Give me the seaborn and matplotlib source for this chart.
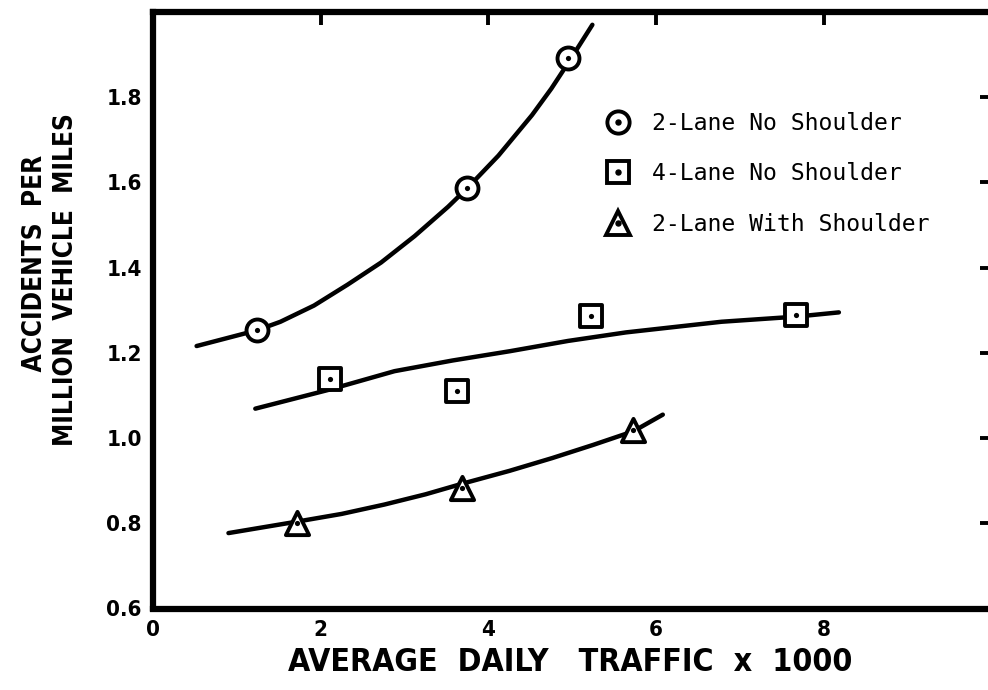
import matplotlib
matplotlib.use("Agg")
import matplotlib.pyplot as plt
import seaborn as sns
from matplotlib import font_manager
from matplotlib.font_manager import FontProperties
from matplotlib.lines import Line2D
from matplotlib.legend_handler import HandlerTuple

# Observed points
two_lane_ns_x = [1.24, 3.75, 4.95]
two_lane_ns_y = [1.253, 1.587, 1.891]
four_lane_ns_x = [2.11, 3.62, 5.22, 7.67]
four_lane_ns_y = [1.138, 1.110, 1.287, 1.289]
two_lane_ws_x = [1.72, 3.69, 5.73]
two_lane_ws_y = [0.800, 0.883, 1.020]

# Hand-drawn trend curves
two_lane_ns_curve_x = [0.52, 1.24, 1.52, 1.92, 2.32, 2.72, 3.12, 3.52, 3.75, 4.12, 4.52, 4.75, 4.95, 5.24]
two_lane_ns_curve_y = [1.216, 1.253, 1.273, 1.311, 1.360, 1.412, 1.474, 1.543, 1.587, 1.663, 1.758, 1.820, 1.880, 1.970]
four_lane_ns_curve_x = [1.22, 2.11, 2.88, 3.57, 4.26, 4.95, 5.64, 6.78, 7.67, 8.18]
four_lane_ns_curve_y = [1.069, 1.114, 1.157, 1.182, 1.204, 1.228, 1.248, 1.273, 1.285, 1.295]
two_lane_ws_curve_x = [0.90, 1.72, 2.25, 2.76, 3.25, 3.69, 4.25, 4.76, 5.25, 5.73, 6.08]
two_lane_ws_curve_y = [0.777, 0.804, 0.822, 0.844, 0.868, 0.893, 0.923, 0.953, 0.984, 1.016, 1.055]

series_labels = ["2-Lane No Shoulder", "4-Lane No Shoulder", "2-Lane With Shoulder"]
x_ticks = [0, 2, 4, 6, 8]
y_ticks = [0.6, 0.8, 1.0, 1.2, 1.4, 1.6, 1.8]

sns.set_theme(style="white")
plt.rcParams.update({"text.color": "black", "axes.labelcolor": "black",
                     "xtick.color": "black", "ytick.color": "black"})
plt.rcParams["font.family"] = ["Liberation Sans", "DejaVu Sans"]


def condensed_bold():
    # look for a narrow/condensed bold sans to mimic the stencil lettering
    found = []
    for f in font_manager.fontManager.ttflist:
        n, fn, st = f.name.lower(), f.fname.lower(), str(f.stretch).lower()
        narrowish = ("condensed" in st or "condensed" in n or "narrow" in n
                     or "condensed" in fn or "narrow" in fn)
        bold = f.weight in (700, "bold")
        if narrowish and bold and f.style == "normal" and "mono" not in n \
                and "italic" not in fn and "semi" not in fn and "extra" not in fn:
            found.append(f)
    found.sort(key=lambda f: 0 if "liberation" in f.name.lower() else 1)
    return found[0].fname if found else None


cond = condensed_bold()
if cond:
    def lab_font(size):
        return FontProperties(fname=cond, size=size)
    tick_size, ylab_size, xlab_size = 16, 18.8, 23
else:
    def lab_font(size):
        return FontProperties(family="Liberation Sans", weight="bold", size=size)
    tick_size, ylab_size, xlab_size = 15.5, 16, 20

fig = plt.figure(figsize=(9.88, 6.90), dpi=100)
ax = fig.add_axes([153 / 988, 81.5 / 690, (991.5 - 153) / 988, (678 - 81.5) / 690])

# curves
for cx, cy in [(two_lane_ns_curve_x, two_lane_ns_curve_y),
               (four_lane_ns_curve_x, four_lane_ns_curve_y),
               (two_lane_ws_curve_x, two_lane_ws_curve_y)]:
    sns.lineplot(x=cx, y=cy, ax=ax, color="black", linewidth=3.2,
                 sort=False, estimator=None, solid_capstyle="round",
                 solid_joinstyle="round", zorder=2)

# markers with centre dot
mk_specs = [(two_lane_ns_x, two_lane_ns_y, "o", 250),
            (four_lane_ns_x, four_lane_ns_y, "s", 260),
            (two_lane_ws_x, two_lane_ws_y, "^", 280)]
for px, py, m, s in mk_specs:
    sns.scatterplot(x=px, y=py, ax=ax, marker=m, s=s, color="white",
                    edgecolor="black", linewidth=2.8, zorder=3)
    sns.scatterplot(x=px, y=py, ax=ax, marker="o", s=14, color="black",
                    linewidth=0, zorder=4)

ax.set_xlim(0, 10)
ax.set_ylim(0.6, 2.0)
ax.set_xticks(x_ticks)
ax.set_xticklabels([str(v) for v in x_ticks])
ax.set_yticks(y_ticks)
ax.set_yticklabels([f"{v:.1f}" for v in y_ticks])
ax.tick_params(direction="in", length=9, width=2.8, top=True, right=True, pad=8)
for lab in ax.get_xticklabels() + ax.get_yticklabels():
    lab.set_fontproperties(lab_font(tick_size))
for sp in ax.spines.values():
    sp.set_linewidth(4.5)
    sp.set_color("black")

# leading spaces nudge the first line up, as in the hand lettering
ax.set_ylabel("    ACCIDENTS  PER\nMILLION  VEHICLE  MILES",
              fontproperties=lab_font(ylab_size), linespacing=1.27, va="center")
ax.yaxis.set_label_coords(-0.122, 0.551)
ax.set_xlabel("AVERAGE  DAILY   TRAFFIC  x  1000",
              fontproperties=lab_font(xlab_size), va="center")
ax.xaxis.set_label_coords(0.497, -0.09)

dot = dict(marker="o", ls="", ms=3.6, color="black")
handles = [
    (Line2D([], [], marker="o", ls="", ms=16, mfc="white", mec="black", mew=2.8), Line2D([], [], **dot)),
    (Line2D([], [], marker="s", ls="", ms=16, mfc="white", mec="black", mew=2.8), Line2D([], [], **dot)),
    (Line2D([], [], marker="^", ls="", ms=17, mfc="white", mec="black", mew=2.8), Line2D([], [], **dot)),
]
ax.legend(handles, series_labels, handler_map={tuple: HandlerTuple(ndivide=1)},
          loc="upper left", bbox_to_anchor=(604 / 988, (690 - 112) / 690),
          bbox_transform=fig.transFigure, frameon=False, borderpad=0,
          borderaxespad=0, handlelength=1.2, handletextpad=0.85, labelspacing=1.18,
          prop={"family": "DejaVu Sans Mono", "size": 16.7})

fig.savefig("out.png", dpi=100)
